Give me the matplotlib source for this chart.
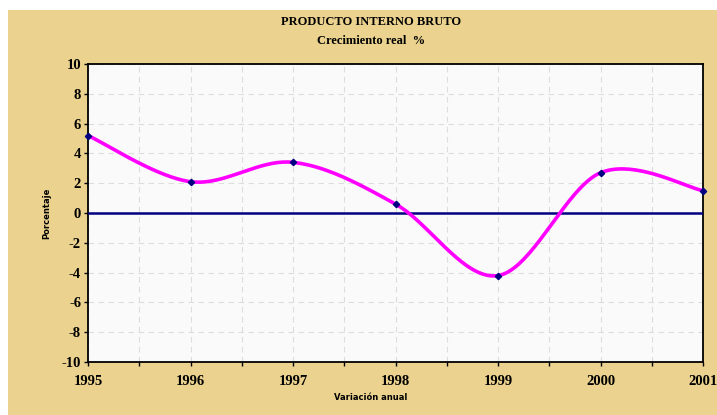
import numpy as np
import matplotlib
matplotlib.use("Agg")
import matplotlib.pyplot as plt
from matplotlib.patches import Rectangle

plt.rcParams["axes.unicode_minus"] = False

years = [1995, 1996, 1997, 1998, 1999, 2000, 2001]
growth = [5.2, 2.1, 3.4, 0.6, -4.2, 2.7, 1.5]

title = "PRODUCTO INTERNO BRUTO"
subtitle = "Crecimiento real  %"
xlabel = "Variación anual"
ylabel = "Porcentaje"

tan = "#EBD38F"
magenta = "#FF00FF"
navy = "#000080"


def smooth(xs, ys, n=40):
    # Excel-style smoothed line: cubic Bezier through the points (Catmull-Rom tangents)
    xs = np.asarray(xs, float)
    ys = np.asarray(ys, float)
    px = np.concatenate([[xs[0]], xs, [xs[-1]]])
    py = np.concatenate([[ys[0]], ys, [ys[-1]]])
    t = np.linspace(0, 1, n)
    ox, oy = [], []
    for i in range(1, len(px) - 2):
        c1x = px[i] + (px[i + 1] - px[i - 1]) / 6
        c1y = py[i] + (py[i + 1] - py[i - 1]) / 6
        c2x = px[i + 1] - (px[i + 2] - px[i]) / 6
        c2y = py[i + 1] - (py[i + 2] - py[i]) / 6
        b0 = (1 - t) ** 3
        b1 = 3 * (1 - t) ** 2 * t
        b2 = 3 * (1 - t) * t ** 2
        b3 = t ** 3
        ox.append(b0 * px[i] + b1 * c1x + b2 * c2x + b3 * px[i + 1])
        oy.append(b0 * py[i] + b1 * c1y + b2 * c2y + b3 * py[i + 1])
    return np.concatenate(ox), np.concatenate(oy)


fig = plt.figure(figsize=(7.17, 4.15), dpi=100, facecolor="white")
fig.patches.append(Rectangle((8 / 717, -0.02), 1, 405 / 415 + 0.02, transform=fig.transFigure,
                             facecolor=tan, edgecolor="none", zorder=-10))

ax = fig.add_axes([88 / 717, 53 / 415, 615 / 717, 298 / 415])
ax.set_facecolor("#FAFAFA")

ax.set_xlim(1995, 2001)
ax.set_ylim(-10, 10)
ax.set_xticks(years)
ax.set_xticks(np.arange(1995.5, 2001, 1.0), minor=True)
ax.set_yticks(np.arange(-10, 11, 2))
ax.grid(True, which="both", color="#DDDDDD", linestyle=(0, (5, 4)), linewidth=0.8)
ax.set_axisbelow(True)

for s in ax.spines.values():
    s.set_linewidth(1.3)
    s.set_color("black")

ax.tick_params(axis="both", which="both", direction="out", length=3, width=1, pad=2)
ax.tick_params(axis="x", pad=6)
for lab in ax.get_xticklabels() + ax.get_yticklabels():
    lab.set_fontfamily("Liberation Serif")
    lab.set_fontweight("bold")
    lab.set_fontsize(10.5)

ax.axhline(0, color=navy, linewidth=1.8, zorder=3)

sx, sy = smooth(years, growth)
ax.plot(sx, sy, color=magenta, linewidth=2.6, zorder=4, solid_capstyle="round")
ax.plot(years, growth, linestyle="none", marker="D", markersize=3.2,
        color=navy, zorder=5, clip_on=False)

fig.text(371 / 717, 1 - 22 / 415, title, ha="center", va="center",
         fontfamily="Liberation Serif", fontweight="bold", fontsize=9)
fig.text(371 / 717, 1 - 41 / 415, subtitle, ha="center", va="center",
         fontfamily="Liberation Serif", fontweight="bold", fontsize=9)
fig.text(371 / 717, 1 - 397 / 415, xlabel, ha="center", va="center",
         fontfamily="DejaVu Sans", fontweight="bold", fontsize=6)
fig.text(47 / 717, 1 - 213 / 415, ylabel, ha="center", va="center", rotation=90,
         fontfamily="DejaVu Sans", fontweight="bold", fontsize=6)

fig.savefig("out.png", dpi=100, facecolor=fig.get_facecolor())
